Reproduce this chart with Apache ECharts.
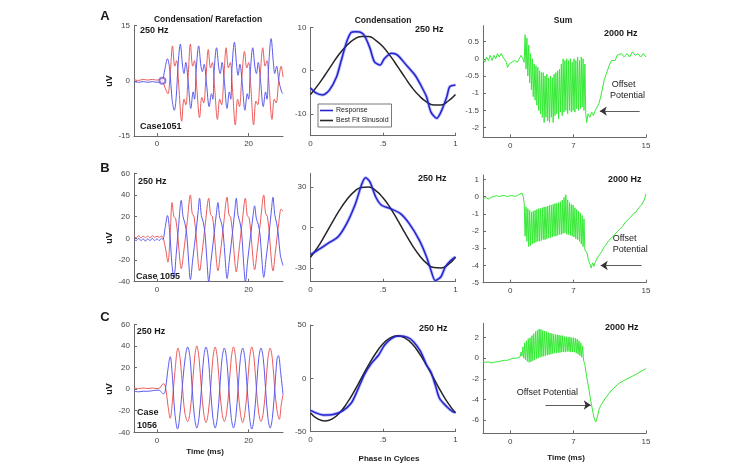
<!DOCTYPE html>
<html>
<head>
<meta charset="UTF-8">
<title></title>
<script src="https://cdn.jsdelivr.net/npm/echarts@6/dist/echarts.min.js"></script>
<style type="text/css">body{margin:0;background:#fff}</style>
</head>
<body>
<div id="box" style="width:755px;height:464px;"></div>
<script type="text/javascript">
// ---- data: time (ms) / uV pairs ----
var blueA = [[-5,-0.2],[-4,-0.4],[-3,-0.2],[-2,-0.4],[-1,-0.2],[0,-0.4],[0.7,-0.2],[1.2,0],
  [1.7,3],[2.3,6],[2.8,3],[3.3,-5],[3.8,-8],[4.2,-4.5],
  [4.6,4],[5.1,10],[5.6,4],[5.9,2],[6.3,5],[6.8,0],[7.4,-7.5],[7.9,-3],[8.2,-5],
  [8.6,3.5],[9.1,9.5],[9.6,4],[9.9,2.5],[10.3,4.5],[10.8,-0.5],[11.4,-7],[11.9,-3.5],[12.2,-5],
  [12.5,3],[13.0,9],[13.5,3.5],[13.8,2],[14.2,5],[14.7,0],[15.3,-7.5],[15.8,-3],[16.1,-5],
  [16.4,4],[16.9,10.5],[17.4,4],[17.7,1.5],[18.1,4.5],[18.6,-0.5],[19.2,-8],[19.7,-3.5],[20.0,-5],
  [20.4,3],[20.9,9],[21.4,3.5],[21.7,2],[22.1,5],[22.6,0],[23.2,-7],[23.7,-3],[24.0,-5],
  [24.4,4.5],[24.9,11.5],[25.4,5],[25.7,2],[26.1,4],[26.6,0],[27.2,-3],[27.5,-3.5]];
var redA = [[-5,0.3],[-4,0.1],[-3,0.4],[-2,0.2],[-1,0.4],[0,0.2],[0.7,0.4],[1.2,0],[1.8,-2],[2.4,-3.5],[2.9,2],
  [3.4,9.5],[3.9,4],[4.3,5.5],[4.8,-2],[5.4,-11],[5.9,-5],[6.3,-6.5],[6.8,1],
  [7.3,10],[7.8,4],[8.2,5.5],[8.7,-2],[9.3,-10],[9.8,-4.5],[10.2,-6],[10.7,1],
  [11.2,8.5],[11.7,3.5],[12.1,5],[12.6,-2],[13.2,-10.5],[13.7,-5],[14.1,-6.5],[14.6,1],
  [15.1,9],[15.6,3.5],[16.0,5],[16.5,-2.5],[17.1,-12],[17.6,-5],[18.0,-7],[18.5,0.5],
  [19.1,8],[19.6,3.5],[20.0,5],[20.5,-2],[21.1,-12],[21.6,-5.5],[22.0,-6.5],[22.5,1],
  [23.1,9],[23.6,4],[24.0,5.5],[24.5,-2],[25.1,-10.5],[25.6,-5],[26.0,-6],[26.6,0.5],[27.1,4],[27.5,1]];
var onsetA = [[1.2, 0]];

var blueB = [[-5,-1],[-4.5,-2],[-4,0],[-3.5,-2],[-3,-0.5],[-2.5,-2.5],[-2,-0.5],[-1.5,-2],[-1,0],[-0.5,-2],[0,-0.5],[0.5,-2],[1,0],[1.3,-1],
  [1.8,10],[2.3,21],[2.8,5],[3.3,-25],[3.7,-36],[4.2,-15],[4.7,10],
  [5.3,35],[5.7,20],[6.1,14],[6.5,4],[6.9,-20],[7.3,-38],[7.8,-20],[8.5,5],[9.0,25],
  [9.3,37],[9.7,21],[10.1,15],[10.5,4],[10.9,-20],[11.3,-40],[11.8,-21],[12.5,5],[13.0,24],
  [13.3,33],[13.7,19],[14.1,14],[14.5,3],[14.9,-20],[15.3,-37],[15.8,-20],[16.5,6],[17.0,26],
  [17.3,37],[17.7,21],[18.1,15],[18.5,4],[18.9,-22],[19.3,-40],[19.8,-20],[20.5,5],[21.0,22],
  [21.3,30],[21.7,18],[22.1,13],[22.5,3],[22.9,-20],[23.3,-36],[23.8,-19],[24.5,6],[25.0,27],
  [25.3,38],[25.7,22],[26.1,14],[26.5,3],[26.9,-15],[27.5,-25]];
var redB = [[-5,2],[-4.5,0.5],[-4,2.5],[-3.5,0.5],[-3,2],[-2.5,0.5],[-2,2],[-1.5,0.5],[-1,2.5],[-0.5,1],[0,2],[0.5,1],[1,2],[1.4,0],
  [1.9,-10],[2.4,-22],[2.9,5],[3.3,33],[3.7,20],[4.1,18],[4.6,0],[5.0,-20],[5.3,-28],[5.8,-14],[6.6,15],
  [7.3,40],[7.7,23],[8.1,20],[8.6,0],[9.0,-22],[9.3,-30],[9.8,-15],[10.6,15],
  [11.3,37],[11.7,22],[12.1,20],[12.6,0],[13.0,-22],[13.3,-30],[13.8,-15],[14.6,15],
  [15.3,38],[15.7,22],[16.1,19],[16.6,-1],[17.0,-22],[17.3,-31],[17.8,-15],[18.6,15],
  [19.3,37],[19.7,21],[20.1,19],[20.6,0],[21.0,-21],[21.3,-29],[21.8,-14],[22.6,16],
  [23.3,40],[23.7,23],[24.1,20],[24.6,0],[25.0,-22],[25.3,-30],[25.8,-14],[26.6,15],[27.1,27],[27.5,25]];

var blueC = [[-5,-2],[-4,-2.5],[-3,-2],[-2,-2],[-1,-1.5],[0,-1],[0.5,-1],[1,-3],[1.4,-4.5],[1.8,-2],
  [2.3,15],[2.9,30],[3.4,10],[3.9,-22],[4.5,-37],[5.1,-20],[5.7,10],[6.2,30],[6.7,39],[7.2,30],[7.7,0],
  [8.2,-26],[8.7,-36],[9.2,-26],[9.7,0],[10.2,29],[10.7,39],[11.2,29],[11.7,0],[12.2,-26],[12.7,-36],
  [13.2,-26],[13.7,0],[14.2,28],[14.7,38],[15.2,28],[15.7,0],[16.2,-26],[16.7,-36],[17.2,-26],[17.7,0],
  [18.2,28],[18.7,38],[19.2,28],[19.7,0],[20.2,-26],[20.7,-37],[21.2,-26],[21.7,0],[22.2,28],[22.7,38],
  [23.2,28],[23.7,0],[24.2,-26],[24.7,-36],[25.2,-26],[25.7,0],[26.2,28],[26.5,31],[27.0,15],[27.5,-5]];
var redC = [[-5,1],[-4,0.5],[-3,1],[-2,0.5],[-1,1],[0,0.5],[0.6,1],[1.1,4],[1.5,5],[1.9,1],[2.4,-15],[2.9,-27],
  [3.4,-10],[3.9,15],[4.6,38],[5.1,27],[5.6,0],[6.1,-22],[6.7,-30],[7.2,-22],[7.7,0],[8.2,28],[8.7,40],
  [9.2,28],[9.7,0],[10.2,-22],[10.7,-31],[11.2,-22],[11.7,0],[12.2,28],[12.7,39],[13.2,28],[13.7,0],
  [14.2,-22],[14.7,-30],[15.2,-22],[15.7,0],[16.2,28],[16.7,39],[17.2,28],[17.7,0],[18.2,-22],[18.7,-31],
  [19.2,-22],[19.7,0],[20.2,28],[20.7,39],[21.2,28],[21.7,0],[22.2,-22],[22.7,-30],[23.2,-22],[23.7,0],
  [24.2,28],[24.7,38],[25.2,27],[25.7,0],[26.2,-20],[26.7,-28],[27.1,-15],[27.5,-5]];

// phase (cycles) / uV
var phase = [0,0.05,0.1,0.15,0.2,0.25,0.3,0.35,0.4,0.45,0.5,0.55,0.6,0.65,0.7,0.75,0.8,0.85,0.9,0.95,1];
var fitA = [-5.5,-3.4,-1.0,1.5,3.9,5.8,7.2,7.9,7.9,7.0,5.5,3.4,1.0,-1.5,-3.9,-5.8,-7.2,-7.9,-7.9,-7.0,-5.5];
var fitB = [-21.9,-14.5,-5.6,3.8,12.8,20.5,26.3,29.5,29.8,27.2,21.9,14.5,5.6,-3.8,-12.8,-20.5,-26.3,-29.5,-29.8,-27.2,-21.9];
var fitC = [-32.4,-38.0,-40,-38.0,-32.4,-23.5,-12.4,0,12.4,23.5,32.4,38.0,40,38.0,32.4,23.5,12.4,0,-12.4,-23.5,-32.4];
var respA = [[0,-4],[0.04,-5.2],[0.085,-5.6],[0.13,-4.5],[0.18,-1.4],[0.21,2.1],[0.25,6.7],[0.28,8.8],[0.31,9],[0.34,8.9],
  [0.37,8.2],[0.41,5.2],[0.44,2.1],[0.48,1.3],[0.51,2.8],[0.56,4],[0.6,3.6],[0.66,1.3],[0.72,-1],[0.76,-3.3],
  [0.8,-6],[0.83,-9.5],[0.87,-11],[0.9,-9.5],[0.94,-6],[0.96,-3.7],[1.0,-3.3]];
var respB = [[0,-20],[0.05,-16.7],[0.12,-11.8],[0.19,-6.9],[0.25,3],[0.31,17.6],[0.355,32.4],[0.38,36.8],
  [0.41,33.6],[0.45,22.5],[0.49,16.4],[0.55,14],[0.62,10.3],[0.68,3],[0.75,-9.3],[0.8,-21.6],[0.83,-31.4],
  [0.86,-39.2],[0.9,-36.3],[0.93,-29],[0.97,-24],[1.0,-21.6]];
var respC = [[0,-30],[0.045,-32.8],[0.09,-34.4],[0.156,-33.8],[0.22,-30.6],[0.28,-23.4],[0.32,-12.5],[0.37,3.1],
  [0.42,14],[0.47,21.9],[0.51,31],[0.56,37.5],[0.61,39.7],[0.67,38.4],[0.71,34.4],[0.76,25],[0.8,12.5],
  [0.83,6],[0.86,-6],[0.89,-18.8],[0.94,-26.6],[0.98,-31.2],[1.0,-32]];

// sum responses (2000 Hz), time (ms) / uV
var sumA = [[-3,0],[-2.8,-0.1],[-2.6,0.05],[-2.4,-0.05],[-2.2,0.1],[-2,-0.05],[-1.8,0.1],[-1.6,0],[-1.4,0.15],
  [-1.2,0.05],[-1,0.15],[-0.8,0.05],[-0.6,0.1],[-0.4,-0.1],[-0.3,-0.25],[-0.1,-0.15],[0.2,-0.1],[0.5,-0.05],
  [0.8,-0.1],[1,0],[1.2,0.1],[1.4,0],[1.55,-0.1],
  [1.65,0.7],[1.75,-0.3],[1.85,0.6],[1.95,-0.5],[2.05,0.4],[2.15,-0.7],[2.25,0.15],[2.35,-0.9],[2.45,0.0],
  [2.55,-1.1],[2.65,-0.15],[2.75,-1.2],[2.85,-0.2],[2.95,-1.35],[3.05,-0.25],[3.15,-1.5],[3.25,-0.35],
  [3.35,-1.6],[3.45,-0.4],[3.55,-1.7],[3.65,-0.4],[3.75,-1.85],[3.85,-0.5],[3.95,-1.7],[4.05,-0.45],
  [4.15,-1.8],[4.25,-0.55],[4.35,-1.85],[4.45,-0.5],[4.55,-1.7],[4.65,-0.55],[4.75,-1.85],[4.85,-0.45],
  [4.95,-1.65],[5.05,-0.4],[5.15,-1.6],[5.25,-0.35],[5.35,-1.75],[5.45,-0.3],[5.55,-1.55],[5.65,-0.15],
  [5.75,-1.65],[5.85,0.0],[5.95,-1.55],[6.05,-0.05],[6.15,-1.5],[6.25,0.0],[6.35,-1.6],[6.45,-0.05],
  [6.55,-1.5],[6.65,0.0],[6.75,-1.55],[6.85,-0.1],[6.95,-1.5],[7.05,0.0],[7.15,-1.55],[7.25,-0.05],
  [7.35,-1.45],[7.45,0.05],[7.55,-1.5],[7.65,-0.05],[7.75,-1.45],[7.85,0.05],[7.95,-1.4],[8.05,0.0],
  [8.15,-1.5],[8.25,-0.15],[8.35,-1.6],[8.45,-1.85],
  [8.6,-1.6],[8.8,-1.7],[9.0,-1.55],[9.2,-1.65],[9.4,-1.5],[9.6,-1.55],[9.8,-1.3],[10.0,-1.1],
  [10.2,-0.85],[10.4,-0.6],[10.6,-0.45],[10.8,-0.3],[11.0,-0.15],[11.2,-0.05],[11.4,0],[11.6,-0.05],
  [11.8,0.1],[12.0,0.05],[12.3,0.15],[12.6,0.05],[12.9,0.15],[13.2,0.05],[13.5,0.2],[13.8,0.1],[14.1,0.15],
  [14.4,0.05],[14.7,0.15],[15,0.05]];
var sumB = [[-3,-0.15],[-2.7,-0.05],[-2.4,-0.15],[-2.1,-0.05],[-1.8,0],[-1.5,0.05],[-1.2,0],[-0.9,0.05],
  [-0.6,0.05],[-0.3,0],[0,0.05],[0.3,0.05],[0.6,0],[0.9,0.1],[1.1,0.15],[1.3,0.2],[1.45,0],
  [1.55,-0.4],[1.65,-2.3],[1.75,-0.6],[1.85,-2.6],[1.95,-0.7],[2.05,-2.9],[2.15,-0.8],[2.25,-2.85],
  [2.35,-0.9],[2.45,-2.75],[2.55,-0.85],[2.65,-2.7],[2.75,-0.8],[2.85,-2.65],[2.95,-0.75],[3.05,-2.6],
  [3.15,-0.7],[3.25,-2.6],[3.35,-0.7],[3.45,-2.55],[3.55,-0.65],[3.65,-2.5],[3.75,-0.6],[3.85,-2.5],
  [3.95,-0.6],[4.05,-2.45],[4.15,-0.55],[4.25,-2.4],[4.35,-0.5],[4.45,-2.4],[4.55,-0.5],[4.65,-2.35],
  [4.75,-0.45],[4.85,-2.3],[4.95,-0.4],[5.05,-2.3],[5.15,-0.4],[5.25,-2.25],[5.35,-0.35],[5.45,-2.2],
  [5.55,-0.3],[5.65,-2.2],[5.75,-0.2],[5.85,-2.15],[5.95,-0.05],[6.05,-2.1],[6.15,0.1],[6.25,-2.2],
  [6.35,-0.2],[6.45,-2.2],[6.55,-0.35],[6.65,-2.25],[6.75,-0.45],[6.85,-2.3],[6.95,-0.5],[7.05,-2.35],
  [7.15,-0.65],[7.25,-2.45],[7.35,-0.75],[7.45,-2.5],[7.55,-0.85],[7.65,-2.6],[7.75,-0.95],[7.85,-2.75],
  [7.95,-1.1],[8.05,-2.9],[8.15,-1.3],[8.25,-3.1],
  [8.5,-3.3],[8.65,-3.7],[8.8,-3.9],[8.95,-4.15],[9.1,-3.85],[9.25,-4.05],[9.4,-3.8],[9.55,-3.9],
  [9.7,-3.5],[9.9,-3.4],[10.1,-3.2],[10.3,-3.0],[10.5,-2.85],[10.7,-2.7],[10.9,-2.55],[11.1,-2.5],
  [11.3,-2.35],[11.5,-2.25],[11.8,-2.05],[12.1,-1.9],[12.4,-1.75],[12.7,-1.5],[13.0,-1.35],[13.3,-1.2],
  [13.6,-1.0],[13.9,-0.9],[14.2,-0.65],[14.5,-0.5],[14.8,-0.2],[15,0.15]];
var sumC = [[-3,-0.35],[-2.7,-0.4],[-2.4,-0.35],[-2.1,-0.45],[-1.8,-0.4],[-1.5,-0.35],[-1.2,-0.3],[-0.9,-0.25],
  [-0.6,-0.2],[-0.3,-0.2],[0,-0.1],[0.3,0],[0.5,0.05],[0.7,0],[0.9,0.05],[1.1,0.15],
  [1.2,0.6],[1.3,0.2],[1.4,1.1],[1.5,0.0],[1.6,1.5],[1.7,-0.15],[1.8,1.7],[1.9,-0.3],[2.0,1.9],[2.1,-0.4],
  [2.2,2.0],[2.3,-0.35],[2.4,2.2],[2.5,-0.25],[2.6,2.4],[2.7,-0.15],[2.8,2.6],[2.9,-0.05],[3.0,2.7],[3.1,0.0],
  [3.2,2.85],[3.3,0.1],[3.4,2.8],[3.5,0.15],[3.6,2.7],[3.7,0.2],[3.8,2.65],[3.9,0.25],[4.0,2.6],[4.1,0.3],
  [4.2,2.5],[4.3,0.35],[4.4,2.45],[4.5,0.4],[4.6,2.4],[4.7,0.45],[4.8,2.35],[4.9,0.5],[5.0,2.3],[5.1,0.5],
  [5.2,2.3],[5.3,0.55],[5.4,2.25],[5.5,0.55],[5.6,2.2],[5.7,0.6],[5.8,2.2],[5.9,0.6],[6.0,2.1],[6.1,0.6],
  [6.2,2.1],[6.3,0.65],[6.4,2.05],[6.5,0.65],[6.6,2.05],[6.7,0.6],[6.8,2.0],[6.9,0.6],[7.0,2.0],[7.1,0.6],
  [7.2,1.95],[7.3,0.5],[7.4,1.85],[7.5,0.4],[7.6,1.7],[7.7,0.25],[7.8,1.5],[7.9,0.1],[8.0,1.2],[8.1,-0.2],
  [8.25,-0.6],
  [8.4,-1.5],[8.55,-2.3],[8.7,-3.0],[8.85,-3.9],[9.0,-4.6],[9.15,-5.3],[9.3,-5.9],[9.45,-6.2],[9.6,-5.8],
  [9.8,-5.0],[10.0,-4.6],[10.5,-3.9],[11.2,-3.1],[12.0,-2.45],[12.7,-2.1],[13.5,-1.75],[14.2,-1.4],[15,-1.0]];

// tick labels
var tickT = [0, 20];
var tickPh = [0, 0.5, 1];
var tickSum = [0, 7, 15];
var yTicksA1 = [-15, 0, 15], yTicksB1 = [-40,-20,0,20,40,60], yTicksC1 = [-40,-20,0,20,40,60];
var yTicksA2 = [-10, 0, 10], yTicksB2 = [-30, 0, 30], yTicksC2 = [-50, 0, 50];
var yTicksA3 = [-2,-1.5,-1,-0.5,0,0.5], yTicksB3 = [-5,-4,-3,-2,-1,0,1], yTicksC3 = [-6,-4,-2,0,2];

// ---- layout ----
var FONT = 'Liberation Sans';
var cols = [{left:134, width:149}, {left:310.5, width:145}, {left:483, width:163}];
var rowsPx = [
  [[25.7,110.3],[27.3,108.4],[25.7,111.6]],
  [[173.3,108.4],[173.3,108.4],[175,107.7]],
  [[324.3,108],[325,106.7],[323.3,110]]
];
var grids = [];
for (var r = 0; r < 3; r++) {
  for (var c = 0; c < 3; c++) {
    grids.push({left:cols[c].left, width:cols[c].width, top:rowsPx[r][c][0], height:rowsPx[r][c][1], outerBoundsMode:'none', containLabel:false});
  }
}

function axis(gi, min, max, ticks, fmt) {
  return {
    type:'value', gridIndex:gi, min:min, max:max,
    axisLine:{show:true, onZero:false, lineStyle:{color:'#6a6a6a', width:1}},
    axisTick:{show:true, inside:true, length:3, customValues:ticks, lineStyle:{color:'#6a6a6a'}},
    axisLabel:{show:true, customValues:ticks, formatter:fmt, fontSize:8, color:'#444', margin:4, fontFamily:FONT},
    splitLine:{show:false}
  };
}
var phFmt = function (v) { return v === 0.5 ? '.5' : String(v); };
var numFmt = function (v) { return String(v); };

var xAxes = [
  axis(0,-5,27.5,tickT,numFmt), axis(1,0,1,tickPh,phFmt), axis(2,-3,15,tickSum,numFmt),
  axis(3,-5,27.5,tickT,numFmt), axis(4,0,1,tickPh,phFmt), axis(5,-3,15,tickSum,numFmt),
  axis(6,-5,27.5,tickT,numFmt), axis(7,0,1,tickPh,phFmt), axis(8,-3,15,tickSum,numFmt)
];
var yAxes = [
  axis(0,-15,15,yTicksA1,numFmt), axis(1,-15,10,yTicksA2,numFmt), axis(2,-2.28,0.96,yTicksA3,numFmt),
  axis(3,-40,60,yTicksB1,numFmt), axis(4,-40,40,yTicksB2,numFmt), axis(5,-5,1.25,yTicksB3,numFmt),
  axis(6,-40,60,yTicksC1,numFmt), axis(7,-50,50,yTicksC2,numFmt), axis(8,-7.3,3.4,yTicksC3,numFmt)
];

var RED = '#ec5a5a', BLUE = '#5a5af0', DBLUE = '#2424cc', GREEN = '#36ea36';

function wave(gi, data, color, name) {
  return {type:'line', name:name, xAxisIndex:gi, yAxisIndex:gi, data:data, showSymbol:false, smooth:0.35,
    lineStyle:{color:color, width:1}, itemStyle:{color:color}, z:3};
}
function withPhase(vals) {
  var out = [];
  for (var i = 0; i < vals.length; i++) out.push([phase[i], vals[i]]);
  return out;
}
function resp(gi, data, name) {
  return [
    {type:'line', xAxisIndex:gi, yAxisIndex:gi, data:data, showSymbol:false, smooth:0.25,
      lineStyle:{color:'rgba(110,110,255,0.45)', width:3.2}, z:2, silent:true},
    {type:'line', name:name, xAxisIndex:gi, yAxisIndex:gi, data:data, showSymbol:false, smooth:0.25,
      lineStyle:{color:DBLUE, width:1.5}, itemStyle:{color:DBLUE}, z:4}
  ];
}
function fit(gi, vals, name) {
  return {type:'line', name:name, xAxisIndex:gi, yAxisIndex:gi, data:withPhase(vals), showSymbol:false, smooth:0.5,
    lineStyle:{color:'#262626', width:1.5}, itemStyle:{color:'#262626'}, z:3};
}
function sum(gi, data, arrow) {
  return {type:'line', xAxisIndex:gi, yAxisIndex:gi, data:data, showSymbol:false,
    lineStyle:{color:GREEN, width:1}, z:3,
    markLine:{silent:true, symbol:['none','arrow'], symbolSize:7, label:{show:false},
      lineStyle:{color:'#333', width:0.8, type:'solid'},
      data:[[{coord:arrow[0]},{coord:arrow[1]}]]}};
}

var series = [
  wave(0, redA, RED), wave(0, blueA, BLUE),
  {type:'scatter', xAxisIndex:0, yAxisIndex:0, data:onsetA, symbol:'emptyCircle', symbolSize:6,
    itemStyle:{color:'#7a5ad8', borderWidth:1}, z:5},
  wave(3, redB, RED), wave(3, blueB, BLUE),
  wave(6, redC, RED), wave(6, blueC, BLUE),
  fit(1, fitA, 'Best Fit Sinusoid'), fit(4, fitB, 'fitB'), fit(7, fitC, 'fitC'),
  sum(2, sumA, [[14.3,-1.52],[9.9,-1.52]]),
  sum(5, sumB, [[14.5,-4.0],[10.0,-4.0]]),
  sum(8, sumC, [[3.9,-4.55],[8.9,-4.55]])
].concat(resp(1, respA, 'Response'), resp(4, respB, 'respB'), resp(7, respC, 'respC'));

function txt(x, y, s, size, bold, align, extra) {
  var o = {type:'text', x:x, y:y, z:10, silent:true,
    style:{text:s, font:(bold ? 'bold ' : '') + size + 'px "' + FONT + '"', fill:'#1a1a1a',
      textAlign:align || 'left', align:align || 'left', textVerticalAlign:'middle', verticalAlign:'middle'}};
  if (extra) for (var k in extra) o[k] = extra[k];
  return o;
}
var graphics = [
  txt(105, 16, 'A', 13, true, 'center'), txt(105, 168, 'B', 13, true, 'center'), txt(105, 317, 'C', 13, true, 'center'),
  txt(208, 20, 'Condensation/ Rarefaction', 8.5, true, 'center'),
  txt(383, 20.7, 'Condensation', 8.5, true, 'center'),
  txt(563, 20.7, 'Sum', 8.5, true, 'center'),
  txt(140, 31, '250 Hz', 9, true), txt(138, 181.7, '250 Hz', 9, true), txt(136.7, 331.7, '250 Hz', 9, true),
  txt(415, 30, '250 Hz', 9, true), txt(418, 179, '250 Hz', 9, true), txt(419, 329, '250 Hz', 9, true),
  txt(604, 34, '2000 Hz', 9, true), txt(608, 180, '2000 Hz', 9, true), txt(605, 327.7, '2000 Hz', 9, true),
  txt(140, 126.7, 'Case1051', 9, true), txt(136, 276.7, 'Case 1055', 9, true),
  txt(137, 413, 'Case', 9, true), txt(137, 425.7, '1056', 9, true),
  txt(611.7, 85, 'Offset', 9, false), txt(610, 95.7, 'Potential', 9, false),
  txt(612.7, 238.3, 'Offset', 9, false), txt(612.7, 250, 'Potential', 9, false),
  txt(516.7, 393, 'Offset Potential', 9, false),
  txt(205, 451.7, 'Time (ms)', 8, true, 'center'),
  txt(389, 458.3, 'Phase in Cylces', 8, true, 'center'),
  txt(566, 457.7, 'Time (ms)', 8, true, 'center'),
  txt(110, 81, 'uV', 9, true, 'center', {rotation:Math.PI/2}),
  txt(110, 238, 'uV', 9, true, 'center', {rotation:Math.PI/2}),
  txt(110, 389, 'uV', 9, true, 'center', {rotation:Math.PI/2})
];

var myChart = echarts.init(document.getElementById('box'), null, {renderer:'canvas'});
var option = {
  animation:false,
  backgroundColor:'#fff',
  grid:grids,
  xAxis:xAxes,
  yAxis:yAxes,
  legend:{data:['Response','Best Fit Sinusoid'], orient:'vertical', left:318, top:104,
    icon:'rect', itemWidth:13, itemHeight:1.6, itemGap:3, padding:[3,3,3,2],
    borderColor:'#555', borderWidth:0.8, backgroundColor:'#fff', selectedMode:false,
    textStyle:{fontSize:7, fontFamily:FONT, color:'#222', padding:[0,0,0,-2]}},
  series:series,
  graphic:graphics
};
myChart.setOption(option);
</script>
</body>
</html>
